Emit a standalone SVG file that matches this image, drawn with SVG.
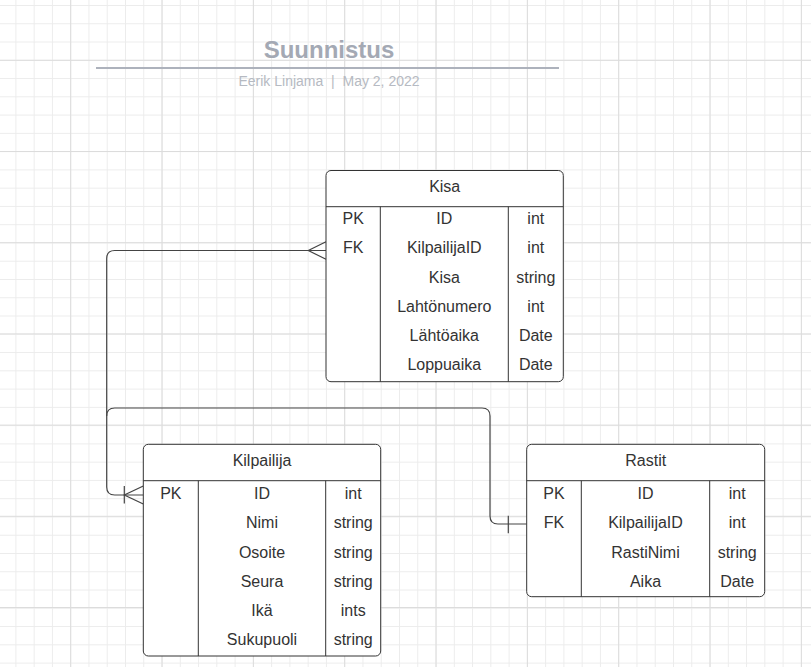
<svg xmlns="http://www.w3.org/2000/svg" width="811" height="667" viewBox="0 0 811 667">
<style>
.t{font-family:"Liberation Sans",Arial,sans-serif;font-size:16px;fill:#333333;text-anchor:middle}
.box{fill:#ffffff;stroke:#333333;stroke-width:1}
.div{stroke:#333333;stroke-width:1;fill:none}
.conn{fill:none;stroke:#444444;stroke-width:1.2}
</style>
<defs>
<pattern id="minor" x="70.2" y="59.8" width="18.267" height="18.267" patternUnits="userSpaceOnUse">
<rect x="0" y="0" width="1" height="18.267" fill="#ececec"/>
<rect x="0" y="0" width="18.267" height="1" fill="#ececec"/>
</pattern>
<pattern id="major" x="70.2" y="59.8" width="91.333" height="91.2" patternUnits="userSpaceOnUse">
<rect x="0" y="0" width="1" height="91.2" fill="#dcdcdc"/>
<rect x="0" y="0" width="91.333" height="1" fill="#dcdcdc"/>
</pattern>
</defs>
<rect width="811" height="667" fill="#ffffff"/>
<rect width="811" height="667" fill="url(#minor)"/>
<rect width="811" height="667" fill="url(#major)"/>

<g id="title">
<text x="329" y="58" style="font-family:'Liberation Sans',Arial,sans-serif;font-size:24px;font-weight:bold;fill:#a4a9b4;text-anchor:middle">Suunnistus</text>
<line x1="96" y1="68" x2="559" y2="68" stroke="#adb2bc" stroke-width="2"/>
<text x="329" y="86" xml:space="preserve" style="font-family:'Liberation Sans',Arial,sans-serif;font-size:14px;fill:#b6bac2;text-anchor:middle;white-space:pre">Eerik Linjama  |  May 2, 2022</text>
</g>

<g id="connectors">
<path class="conn" d="M143.3,495 H114.7 Q106.7,495 106.7,487 V258.5 Q106.7,250.5 114.7,250.5 H326"/>
<path class="conn" d="M106.7,416 Q106.7,408 114.7,408 H482 Q490,408 490,416 V516 Q490,524 498,524 H526.7"/>
<path class="conn" d="M326,241.7 L308.3,250.5 L326,259.3"/>
<path class="conn" d="M124.3,486 V503.5 M143.3,486 L124.3,495 L143.3,504"/>
<path class="conn" d="M508.3,515.7 V533.3"/>
</g>

<g id="kisa">
<rect class="box" x="326" y="170.5" width="237.3" height="211.2" rx="5"/>
<path class="div" d="M326,206.7 H563.3 M380.3,206.7 V381.7 M508.3,206.7 V381.7"/>
<text class="t" x="444.7" y="191.5">Kisa</text>
<text class="t" x="353.2" y="224.1">PK</text>
<text class="t" x="444.3" y="224.1">ID</text>
<text class="t" x="535.8" y="224.1">int</text>
<text class="t" x="353.2" y="253.3">FK</text>
<text class="t" x="444.3" y="253.3">KilpailijaID</text>
<text class="t" x="535.8" y="253.3">int</text>
<text class="t" x="444.3" y="282.5">Kisa</text>
<text class="t" x="535.8" y="282.5">string</text>
<text class="t" x="444.3" y="311.7">Lahtönumero</text>
<text class="t" x="535.8" y="311.7">int</text>
<text class="t" x="444.3" y="340.9">Lähtöaika</text>
<text class="t" x="535.8" y="340.9">Date</text>
<text class="t" x="444.3" y="370.1">Loppuaika</text>
<text class="t" x="535.8" y="370.1">Date</text>
</g>

<g id="kilpailija">
<rect class="box" x="143.3" y="444.3" width="237.4" height="211.7" rx="5"/>
<path class="div" d="M143.3,480.7 H380.7 M198.3,480.7 V656 M325.7,480.7 V656"/>
<text class="t" x="262" y="465.8">Kilpailija</text>
<text class="t" x="170.8" y="499.1">PK</text>
<text class="t" x="262" y="499.1">ID</text>
<text class="t" x="353.2" y="499.1">int</text>
<text class="t" x="262" y="528.3">Nimi</text>
<text class="t" x="353.2" y="528.3">string</text>
<text class="t" x="262" y="557.5">Osoite</text>
<text class="t" x="353.2" y="557.5">string</text>
<text class="t" x="262" y="586.7">Seura</text>
<text class="t" x="353.2" y="586.7">string</text>
<text class="t" x="262" y="615.9">Ikä</text>
<text class="t" x="353.2" y="615.9">ints</text>
<text class="t" x="262" y="645.1">Sukupuoli</text>
<text class="t" x="353.2" y="645.1">string</text>
</g>

<g id="rastit">
<rect class="box" x="526.7" y="444.3" width="238" height="152.4" rx="5"/>
<path class="div" d="M526.7,480.7 H764.7 M581.3,480.7 V596.7 M709.7,480.7 V596.7"/>
<text class="t" x="645.7" y="465.8">Rastit</text>
<text class="t" x="554" y="499.1">PK</text>
<text class="t" x="645.5" y="499.1">ID</text>
<text class="t" x="737.2" y="499.1">int</text>
<text class="t" x="554" y="528.3">FK</text>
<text class="t" x="645.5" y="528.3">KilpailijaID</text>
<text class="t" x="737.2" y="528.3">int</text>
<text class="t" x="645.5" y="557.5">RastiNimi</text>
<text class="t" x="737.2" y="557.5">string</text>
<text class="t" x="645.5" y="586.7">Aika</text>
<text class="t" x="737.2" y="586.7">Date</text>
</g>
</svg>
